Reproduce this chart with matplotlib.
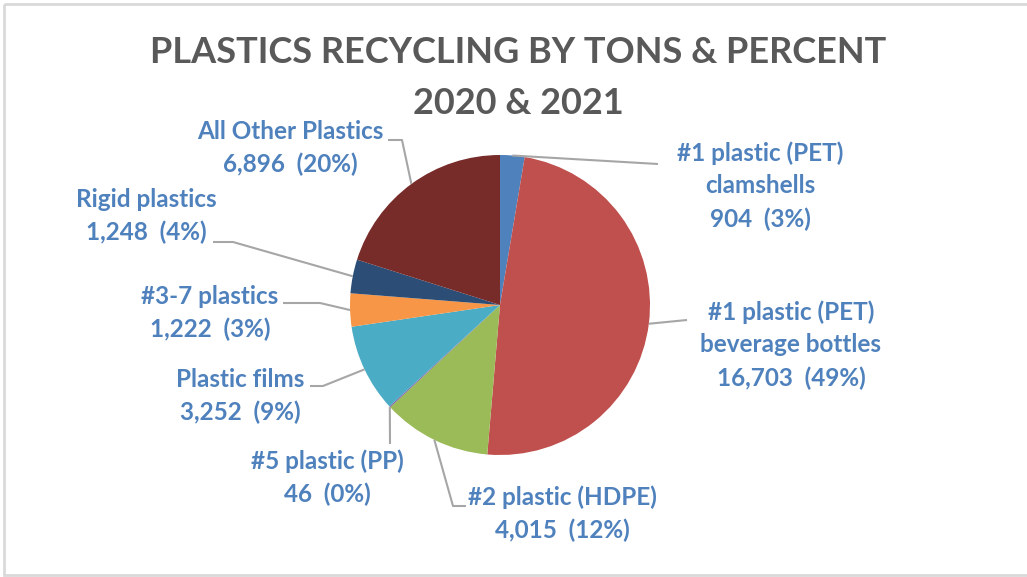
import numpy as np
import matplotlib.pyplot as plt

# --- Data: tons recycled, 2020 & 2021 combined ---
categories = [
    "#1 plastic (PET)\nclamshells",
    "#1 plastic (PET)\nbeverage bottles",
    "#2 plastic (HDPE)",
    "#5 plastic (PP)",
    "Plastic films",
    "#3-7 plastics",
    "Rigid plastics",
    "All Other Plastics",
]
tons = [904, 16703, 4015, 46, 3252, 1222, 1248, 6896]
pct_labels = ["3%", "49%", "12%", "0%", "9%", "3%", "4%", "20%"]
colors = ["#4F81BD", "#C0504D", "#9BBB59", "#8064A2",
          "#4BACC6", "#F79646", "#2C4D75", "#772C2A"]

# --- Layout (pixel coordinates, y down) ---
W, H = 1027, 577
CX, CY, R = 500, 305, 150
label_pos = [(760, 186), (791, 345), (562, 514), (327, 478),
             (240, 396), (210, 313), (146, 216), (290, 148)]
leader_knees = [
    [(658, 164)],
    [(687, 320)],
    [(453, 506), (466, 506)],
    [(390, 444)],
    [(323, 386), (310, 386)],
    [(320, 303), (283, 303)],
    [(233, 242), (213, 242)],
    [(402, 140), (388, 140)],
]

LABEL_COLOR = "#4F81BD"
LEADER_COLOR = "#A6A6A6"
FONT = "Lato"

fig = plt.figure(figsize=(W / 100, H / 100), dpi=100)
ax = fig.add_axes([0, 0, 1, 1])

ax.pie(tons, colors=colors, center=(CX, CY), radius=R,
       startangle=-90, counterclock=True,
       wedgeprops=dict(linewidth=0))
ax.set_xlim(0, W)
ax.set_ylim(H, 0)
ax.set_aspect("auto")
ax.axis("off")

# outer frame
ax.add_patch(plt.Rectangle((4, 4), W + 10, H - 6.5, fill=False,
                           edgecolor="#D9D9D9", linewidth=2))

# title
ax.text(518, 78, "PLASTICS RECYCLING BY TONS & PERCENT\n2020 & 2021",
        ha="center", va="center", fontsize=26, fontweight="bold",
        color="#595959", family=FONT, linespacing=1.7)

# labels with leader lines from each wedge's mid-angle
total = sum(tons)
cum = np.cumsum([0] + tons) / total
for i, (name, t, pct) in enumerate(zip(categories, tons, pct_labels)):
    theta = np.deg2rad(-90 + 360 * (cum[i] + cum[i + 1]) / 2)
    ax0, ay0 = CX + R * np.cos(theta), CY + R * np.sin(theta)
    pts = [(ax0, ay0)] + leader_knees[i]
    xs, ys = zip(*pts)
    ax.plot(xs, ys, color=LEADER_COLOR, linewidth=1.5, solid_capstyle="butt")
    lx, ly = label_pos[i]
    ax.text(lx, ly, f"{name}\n{t:,}  ({pct})", ha="center", va="center",
            fontsize=17.5, fontweight="bold", color=LABEL_COLOR,
            family=FONT, linespacing=1.5)

fig.savefig("out.png", dpi=100)
